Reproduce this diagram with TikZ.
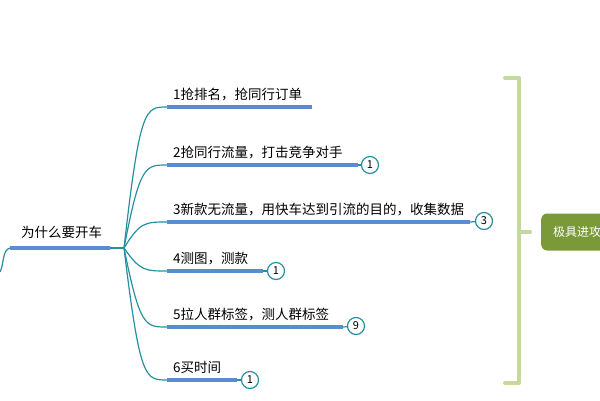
\documentclass[tikz,border=0pt]{standalone}
\usepackage{fontspec}
\setmainfont{Noto Sans CJK SC}
\definecolor{tealc}{HTML}{2590A0}
\definecolor{ublue}{HTML}{5B8BD0}
\definecolor{brk}{HTML}{C5D89E}
\definecolor{boxg}{HTML}{7A9A3A}
\begin{document}
\begin{tikzpicture}[x=1pt,y=-1pt,
  curve/.style={draw=tealc,line width=1.2pt},
  uline/.style={draw=ublue,line width=3.5pt},
  lbl/.style={anchor=south west,font=\fontsize{13.5}{15}\selectfont,inner sep=1pt},
  num/.style={circle,draw=tealc,line width=1.2pt,minimum size=17pt,inner sep=0pt,font=\fontsize{11}{12}\selectfont,fill=white}]
\useasboundingbox (0,0) rectangle (600,400);
\clip (0,0) rectangle (600,400);
\coordinate (hub) at (124,248);
\coordinate (r0) at (10,248);
\coordinate (r1) at (110,248);
\draw[uline] (r0) -- (r1);
\node[lbl] (root) at (20,240) {为什么要开车};
\draw[curve] (r1) -- (hub);
\coordinate (lo) at (0,272);
\draw[curve] (r0) .. controls (2,250) and (4,265) .. (lo);
\foreach \i/\y/\xe/\t in {1/107/312/{1抢排名，抢同行订单},2/165/358/{2抢同行流量，打击竞争对手},3/222/470/{3新款无流量，用快车达到引流的目的，收集数据},4/271/263/{4测图，测款},5/327/343/{5拉人群标签，测人群标签},6/380/237/{6买时间}}{
  \coordinate (s\i) at (167,\y);
  \coordinate (e\i) at (\xe,\y);
  \draw[curve] (hub) .. controls (140,\y) and (145,\y) .. (s\i);
  \draw[uline] (s\i) -- (e\i);
  \node[lbl] (t\i) at (172,\y-5) {\t};
}
\node[num] (c2) at (370,165) {1};
\node[num] (c3) at (484,221) {3};
\node[num] (c4) at (276,271) {1};
\node[num] (c5) at (356,326) {9};
\node[num] (c6) at (250,380) {1};
\draw[curve] (e2) -- (c2); \draw[curve] (e3) -- (c3); \draw[curve] (e4) -- (c4);
\draw[curve] (e5) -- (c5); \draw[curve] (e6) -- (c6);
\coordinate (bt) at (505,78); \coordinate (bb) at (505,383);
\draw[draw=brk,line width=4pt,line cap=round,line join=round] (bt) -- (519,78) -- (519,383) -- (bb);
\coordinate (bm) at (519,232); \coordinate (bs) at (530,232);
\draw[draw=brk,line width=4pt,line cap=round] (bm) -- (bs);
\node[draw=none,fill=boxg,rounded corners=6pt,minimum height=37pt,minimum width=90pt,anchor=west,text=white,font=\itshape\fontsize{12}{14}\selectfont,inner xsep=12pt,align=left] (box) at (541,232) {极具进攻性\hspace{30pt}};
\end{tikzpicture}
\end{document}
